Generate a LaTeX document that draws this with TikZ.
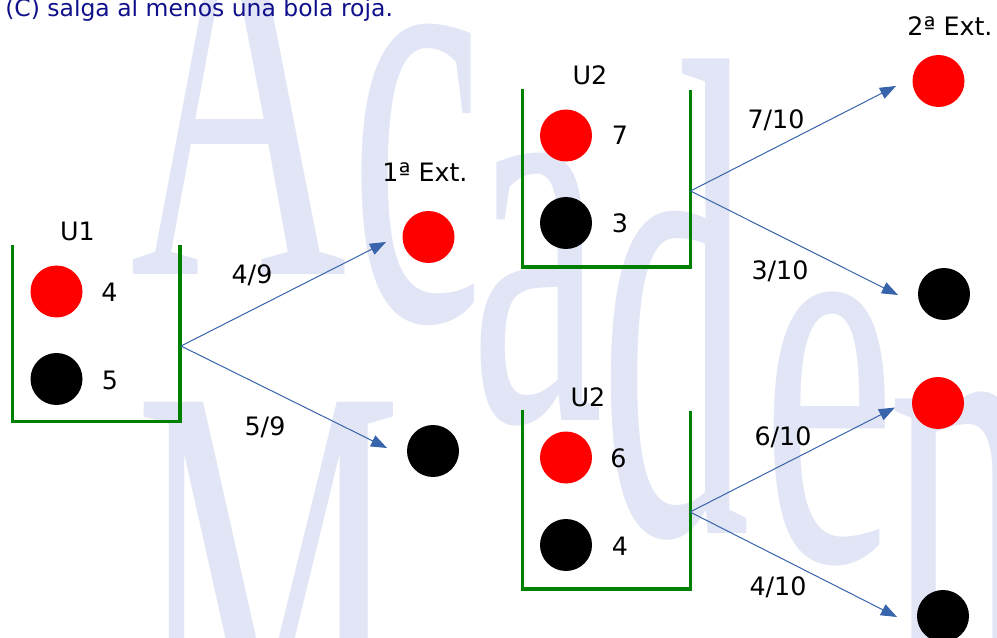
\documentclass[tikz,border=0pt]{standalone}
\usepackage{fontspec}
\setmainfont{DejaVu Sans}
\newfontfamily\wmfamily{Liberation Serif}
\usetikzlibrary{arrows.meta}
\definecolor{urngreen}{RGB}{0,128,0}
\definecolor{branchblue}{RGB}{55,100,170}
\definecolor{titleblue}{RGB}{16,16,140}
\definecolor{wmcol}{RGB}{225,229,245}
\begin{document}
\begin{tikzpicture}[x=0.75pt,y=-0.75pt,
  ball/.style={circle, minimum size=39pt, inner sep=0pt},
  redball/.style={ball, fill=red},
  blackball/.style={ball, fill=black},
  urn/.style={draw=urngreen, line width=2.5pt},
  branch/.style={draw=branchblue, line width=0.75pt, -{Triangle[length=12pt,width=9pt]}},
  lbl/.style={font=\fontsize{19}{23}\selectfont, inner sep=0pt},
  wm/.style={font=\wmfamily\fontsize{225}{225}\selectfont, text=wmcol, yscale=1.9, anchor=base west, inner sep=0pt}]
\useasboundingbox (0,0) rectangle (997,638);

% faint background lettering
\node[wm] (wA) at (130,275) {A};
\node[wm, yscale=1.1] (wc) at (350,320) {c};
\node[wm] (wa) at (470,420) {a};
\node[wm, yscale=1.2] (wd) at (600,533) {d};
\node[wm] (we) at (762,560) {e};
\node[wm] (wn) at (888,660) {n};
\node[wm] (wM) at (135,775) {M};

% heading
\node[anchor=base west, font=\fontsize{17.6}{21}\selectfont, text=titleblue, inner sep=0pt] (title) at (5,17) {(C) salga al menos una bola roja.};

% first urn
\draw[urn] (12.5,245) |- (180,421.5) -- (180,245);
\node[lbl] (u1) at (77.5,231) {U1};
\node[redball] (u1r) at (56.5,291.5) {};
\node[blackball] (u1b) at (56.5,379) {};
\node[lbl] (n4) at (109.5,292) {4};
\node[lbl] (n5) at (110,380) {5};

% first draw
\node[lbl] (ext1) at (425,172) {1ª Ext.};
\node[redball] (e1r) at (428.5,237) {};
\node[blackball] (e1b) at (433,451) {};
\coordinate (o1) at (181,346);
\coordinate (t1r) at (386,242);
\coordinate (t1b) at (387,448);
\draw[branch] (o1) -- (t1r);
\draw[branch] (o1) -- (t1b);
\node[lbl] (p49) at (252,275) {4/9};
\node[lbl] (p59) at (265,427) {5/9};

% second urn after a red ball
\draw[urn] (522.7,89) |- (690.7,267) -- (690.7,90.5);
\node[lbl] (u2a) at (590,75) {U2};
\node[redball] (u2ar) at (566,135.5) {};
\node[blackball] (u2ab) at (566,223) {};
\node[lbl] (n7) at (620,135) {7};
\node[lbl] (n3) at (620,223) {3};

% second urn after a black ball
\draw[urn] (522.7,410) |- (690.5,589) -- (690.5,411);
\node[lbl] (u2b) at (588,397) {U2};
\node[redball] (u2br) at (566,457.5) {};
\node[blackball] (u2bb) at (566,545) {};
\node[lbl] (n6) at (618.5,458) {6};
\node[lbl] (n4b) at (620,546) {4};

% second draw
\node[lbl] (ext2) at (950,26) {2ª Ext.};
\node[redball] (e2r1) at (938.5,81) {};
\node[blackball] (e2b1) at (944,294) {};
\node[redball] (e2r2) at (938,403) {};
\node[blackball] (e2b2) at (943,616) {};

\coordinate (o2) at (690.5,191);
\coordinate (t2r) at (896,86);
\coordinate (t2b) at (898,295);
\draw[branch] (o2) -- (t2r);
\draw[branch] (o2) -- (t2b);
\node[lbl] (p710) at (776,120) {7/10};
\node[lbl] (p310) at (780,271) {3/10};

\coordinate (o3) at (690,512);
\coordinate (t3r) at (895,407.5);
\coordinate (t3b) at (897,617);
\draw[branch] (o3) -- (t3r);
\draw[branch] (o3) -- (t3b);
\node[lbl] (p610) at (783,437) {6/10};
\node[lbl] (p410) at (778,587) {4/10};
\end{tikzpicture}
\end{document}
